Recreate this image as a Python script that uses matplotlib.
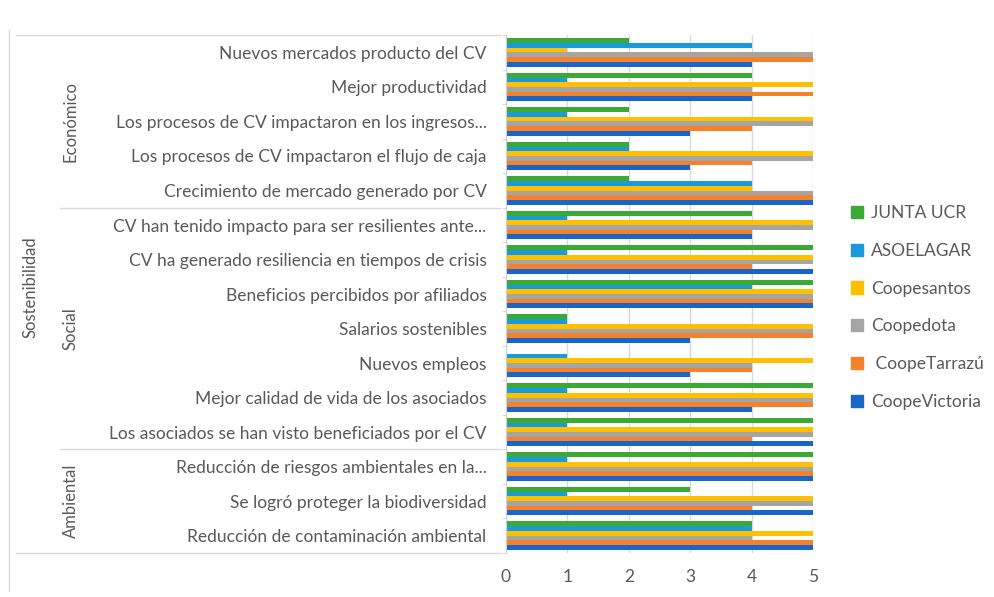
import numpy as np
import matplotlib.pyplot as plt
from matplotlib.patches import Patch
from matplotlib.transforms import blended_transform_factory

plt.rcParams['font.family'] = ['Lato', 'DejaVu Sans']

# Indicadores, de arriba hacia abajo
categorias = [
    'Nuevos mercados producto del CV',
    'Mejor productividad',
    'Los procesos de CV impactaron en los ingresos...',
    'Los procesos de CV impactaron el flujo de caja',
    'Crecimiento de mercado generado por CV',
    'CV han tenido impacto para ser resilientes ante...',
    'CV ha generado resiliencia en tiempos de crisis',
    'Beneficios percibidos por afiliados',
    'Salarios sostenibles',
    'Nuevos empleos',
    'Mejor calidad de vida de los asociados',
    'Los asociados se han visto beneficiados por el CV',
    'Reducción de riesgos ambientales en la...',
    'Se logró proteger la biodiversidad',
    'Reducción de contaminación ambiental',
]
dimensiones = ['Económico', 'Social', 'Ambiental']
n_por_dimension = [5, 7, 3]

junta_ucr     = [2, 4, 2, 2, 2, 4, 5, 5, 1, 0, 5, 5, 5, 3, 4]
asoelagar     = [4, 1, 1, 2, 4, 1, 1, 4, 1, 1, 1, 1, 1, 1, 4]
coopesantos   = [1, 5, 5, 5, 4, 5, 5, 5, 5, 5, 5, 5, 5, 5, 5]
coopedota     = [5, 4, 5, 5, 5, 5, 5, 5, 5, 4, 5, 5, 5, 5, 4]
coopetarrazu  = [5, 5, 4, 4, 5, 4, 4, 5, 5, 4, 5, 4, 5, 4, 5]
coopevictoria = [4, 4, 3, 3, 5, 4, 5, 5, 3, 3, 4, 5, 5, 5, 5]

# Orden de series como en Excel: la primera queda abajo en cada grupo
series = [
    ('CoopeVictoria', coopevictoria, '#1A66C8'),
    (' CoopeTarrazú', coopetarrazu, '#F5822A'),
    ('Coopedota', coopedota, '#A5A5A5'),
    ('Coopesantos', coopesantos, '#FFC000'),
    ('ASOELAGAR', asoelagar, '#1B9ADB'),
    ('JUNTA UCR', junta_ucr, '#3BAA35'),
]

txt = '#595959'
fs = 12.5
fig = plt.figure(figsize=(9.94, 5.97), dpi=100)
ax = fig.add_axes([0.509, 0.074, 0.309, 0.867])

y = np.arange(len(categorias))
h = 0.82 / len(series)
for i, (nombre, vals, color) in enumerate(series):
    offs = (2.5 - i) * h  # eje invertido: i=0 queda abajo
    ax.barh(y + offs, vals, height=h, color=color, label=nombre)

ax.set_ylim(len(categorias) - 0.5, -0.5)
ax.set_xlim(0, 5)
ax.set_xticks(range(6))
ax.tick_params(axis='x', length=0, pad=12, labelsize=fs, labelcolor=txt)
ax.set_yticks(y)
ax.set_yticklabels(categorias)
ax.tick_params(axis='y', length=0, pad=14, labelsize=fs, labelcolor=txt)
ax.set_yticks(np.arange(-0.5, len(categorias)), minor=True)
ax.tick_params(axis='y', which='minor', length=3, color='#d0d0d0')
ax.grid(axis='x', color='#d9d9d9', linewidth=1)
ax.set_axisbelow(True)
for s in ['top', 'right', 'bottom']:
    ax.spines[s].set_visible(False)
ax.spines['left'].set_color('#d0d0d0')

# Líneas separadoras y etiquetas de dimensión
tr = blended_transform_factory(fig.transFigure, ax.transData)
lc = '#d9d9d9'
ax.plot([0.016, 0.503], [-0.5, -0.5], transform=tr, color=lc, lw=1, clip_on=False)
ax.plot([0.016, 0.503], [len(categorias) - 0.5] * 2, transform=tr, color=lc, lw=1, clip_on=False)
inicio = 0
for k, (dim, n) in enumerate(zip(dimensiones, n_por_dimension)):
    fin = inicio + n
    if k > 0:
        ax.plot([0.06, 0.503], [inicio - 0.5] * 2, transform=tr, color=lc, lw=1, clip_on=False)
    ax.text(0.071, (inicio + fin - 1) / 2, dim, transform=tr, rotation=90,
            ha='center', va='center', fontsize=12, color=txt)
    inicio = fin
ax.text(0.031, (len(categorias) - 1) / 2 - 0.2, 'Sostenibilidad', transform=tr, rotation=90,
        ha='center', va='center', fontsize=12, color=txt)

# Borde izquierdo del área del gráfico
fig.add_artist(plt.Line2D([0.009, 0.009], [0.01, 0.95], transform=fig.transFigure,
                          color=lc, lw=1))

handles = [Patch(color=c) for _, _, c in series][::-1]
labels = [n for n, _, _ in series][::-1]
fig.legend(handles, labels, loc='center left', bbox_to_anchor=(0.84, 0.485),
           frameon=False, fontsize=fs, labelcolor=txt, labelspacing=1.25,
           handlelength=0.7, handleheight=0.7, handletextpad=0.5)

fig.savefig('out.png', dpi=100)
